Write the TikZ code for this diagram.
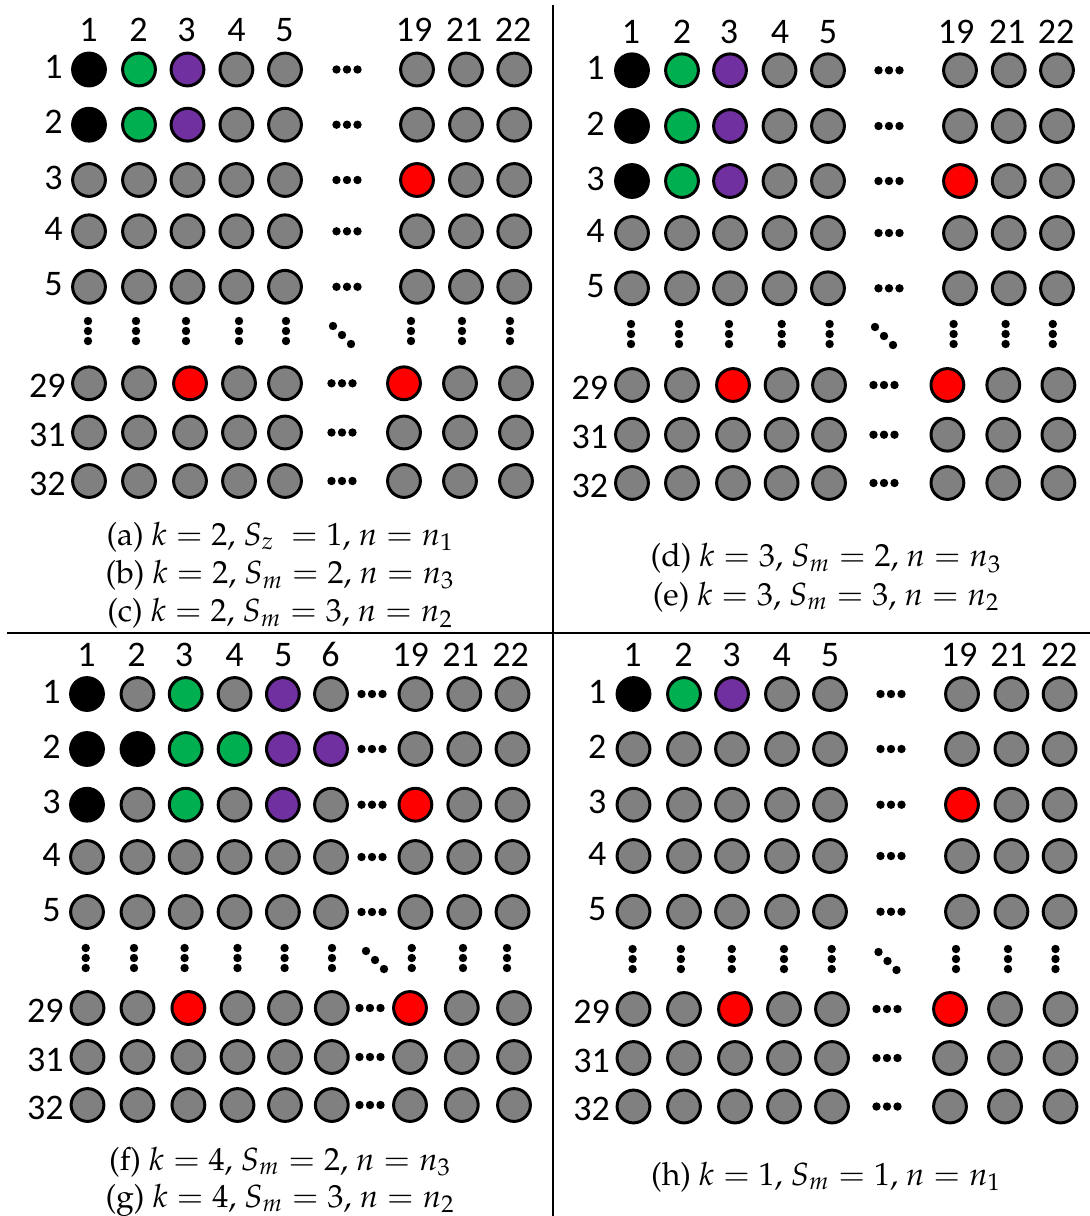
\documentclass[tikz,border=0pt]{standalone}
\usepackage{mathpazo}
\usepackage[no-math]{fontspec}
\usepackage{tikz}
\newfontfamily\numfont{Carlito}
\newcommand{\capfont}{\usefont{OT1}{ppl}{m}{n}\fontsize{16}{19}\selectfont}
\definecolor{ballgray}{HTML}{808080}
\definecolor{ballgreen}{HTML}{00B050}
\definecolor{ballpurple}{HTML}{7030A0}
\tikzset{
  ball/.style={circle, draw=black, line width=1.5pt, minimum size=16.4pt, inner sep=0pt, fill=ballgray},
  ballN/.style={},
  ballK/.style={fill=black},
  ballG/.style={fill=ballgreen},
  ballP/.style={fill=ballpurple},
  ballR/.style={fill=red},
  numlab/.style={font=\numfont\fontsize{18}{21}\selectfont, inner sep=0pt, anchor=base},
  rowlab/.style={numlab, anchor=base east},
  captxt/.style={font=\capfont, inner sep=0pt, anchor=base}
}

\begin{document}
\begin{tikzpicture}[x=0.5pt,y=-0.5pt]
        \useasboundingbox (0,0) rectangle (1090,1216);
        %linee di separazione
        \draw[line width=0.6pt] (553,5)--(553,1216);
        \draw[line width=0.6pt] (7,633)--(1090,633);
        %pannello (a)-(c)
        \foreach \x/\c in {88.6/1,138.6/2,186.4/3,236.4/4,284.6/5,414/19,464/21,513/22}
          \node[numlab] (A-col\c) at (\x,41.7) {\c};
        \foreach \y/\r/\fills in {69.5/1/{K,G,P,N,N,N,N,N},124.7/2/{K,G,P,N,N,N,N,N},180/3/{N,N,N,N,N,R,N,N},231.3/4/{N,N,N,N,N,N,N,N},286.8/5/{N,N,N,N,N,N,N,N}}{
          \node[rowlab] (A-row\r) at (63,\y+9) {\r};
          \foreach \f [count=\j] in \fills {
            \pgfmathsetmacro{\x}{{89,139,187.5,236.4,285,417,466,514.3}[\j-1]}
            \node[ball,ball\f] (A-\r-\j) at (\x,\y) {};
          }
          \foreach \d in {-10.5,0,10.5} \fill (347+\d,\y) circle (2.1pt);
        }
        \foreach \x in {88,136,186,239,286,411,462,510}
          \foreach \d in {-10,0,10} \fill (\x,331+\d) circle (2.1pt);
        \foreach \d in {-9,0,9} \fill (342+\d,335+\d) circle (2.1pt);
        \foreach \y/\r/\fills in {383.3/29/{N,N,R,N,N,R,N,N},432.5/31/{N,N,N,N,N,N,N,N},481/32/{N,N,N,N,N,N,N,N}}{
          \node[rowlab] (A-row\r) at (66,\y+14) {\r};
          \foreach \f [count=\j] in \fills {
            \pgfmathsetmacro{\x}{{89,139,190,239,285,404,460,516}[\j-1]}
            \node[ball,ball\f] (A-\r-\j) at (\x,\y) {};
          }
          \foreach \d in {-10.5,0,10.5} \fill (342+\d,\y) circle (2.1pt);
        }
        \node[captxt] (capa) at (280,545) {(a) $k=2$, $S_z\ =1$, $n=n_1$};
        \node[captxt] (capb) at (280,583.3) {(b) $k=2$, $S_m=2$, $n=n_3$};
        \node[captxt] (capc) at (280,621.7) {(c) $k=2$, $S_m=3$, $n=n_2$};
        %pannello (d)-(e)
        \foreach \x/\c in {631/1,682/2,729/3,780/4,828/5,956/19,1007/21,1056/22}
          \node[numlab] (D-col\c) at (\x,43.3) {\c};
        \foreach \y/\r/\fills in {70.3/1/{K,G,P,N,N,N,N,N},126/2/{K,G,P,N,N,N,N,N},181/3/{K,G,P,N,N,R,N,N},233/4/{N,N,N,N,N,N,N,N},288.3/5/{N,N,N,N,N,N,N,N}}{
          \node[rowlab] (D-row\r) at (605,\y+9) {\r};
          \foreach \f [count=\j] in \fills {
            \pgfmathsetmacro{\x}{{632,682,730,779.5,828,960,1008.7,1057}[\j-1]}
            \node[ball,ball\f] (D-\r-\j) at (\x,\y) {};
          }
          \foreach \d in {-10.5,0,10.5} \fill (889+\d,\y) circle (2.1pt);
        }
        \foreach \x in {631,679,729,781.7,829.6,953.6,1005.6,1052.8}
          \foreach \d in {-10,0,10} \fill (\x,334+\d) circle (2.1pt);
        \foreach \d in {-9,0,9} \fill (884+\d,336+\d) circle (2.1pt);
        \foreach \y/\r/\fills in {385/29/{N,N,R,N,N,R,N,N},434.7/31/{N,N,N,N,N,N,N,N},483/32/{N,N,N,N,N,N,N,N}}{
          \node[rowlab] (D-row\r) at (608.5,\y+14) {\r};
          \foreach \f [count=\j] in \fills {
            \pgfmathsetmacro{\x}{{632,682,733,781.6,829,947.4,1003.3,1058.4}[\j-1]}
            \node[ball,ball\f] (D-\r-\j) at (\x,\y) {};
          }
          \foreach \d in {-10.5,0,10.5} \fill (884+\d,\y) circle (2.1pt);
        }
        \node[captxt] (capd) at (826,566.7) {(d) $k=3$, $S_m=2$, $n=n_3$};
        \node[captxt] (cape) at (826,605) {(e) $k=3$, $S_m=3$, $n=n_2$};
        %pannello (f)-(g)
        \foreach \x/\c in {86.4/1,136.4/2,184/3,234.6/4,283.2/5,330.4/6,410.7/19,460.7/21,510.7/22}
          \node[numlab] (F-col\c) at (\x,666.7) {\c};
        \foreach \y/\r/\fills in {694/1/{K,N,G,N,P,N,N,N,N},749/2/{K,K,G,G,P,P,N,N,N},804.7/3/{K,N,G,N,P,N,R,N,N},857/4/{N,N,N,N,N,N,N,N,N},912/5/{N,N,N,N,N,N,N,N,N}}{
          \node[rowlab] (F-row\r) at (61,\y+9) {\r};
          \foreach \f [count=\j] in \fills {
            \pgfmathsetmacro{\x}{{87,137.5,185.7,234.6,282.9,331,415.4,464.3,512.5}[\j-1]}
            \node[ball,ball\f] (F-\r-\j) at (\x,\y) {};
          }
          \foreach \d in {-10.5,0,10.5} \fill (372+\d,\y) circle (2.1pt);
        }
        \foreach \x in {85.7,134,184.6,237.5,284.6,332,411.8,463,507}
          \foreach \d in {-10,0,10} \fill (\x,958+\d) circle (2.1pt);
        \foreach \d in {-9,0,9} \fill (375+\d,960+\d) circle (2.1pt);
        \foreach \y/\r/\fills in {1008/29/{N,N,R,N,N,N,R,N,N},1057/31/{N,N,N,N,N,N,N,N,N},1105/32/{N,N,N,N,N,N,N,N,N}}{
          \node[rowlab] (F-row\r) at (64,\y+14) {\r};
          \foreach \f [count=\j] in \fills {
            \pgfmathsetmacro{\x}{{87.5,137.5,188.4,237.5,285,331.8,410,461.8,514}[\j-1]}
            \node[ball,ball\f] (F-\r-\j) at (\x,\y) {};
          }
          \foreach \d in {-10.5,0,10.5} \fill (370+\d,\y) circle (2.1pt);
        }
        \node[captxt] (capf) at (280,1170) {(f) $k=4$, $S_m=2$, $n=n_3$};
        \node[captxt] (capg) at (280,1207) {(g) $k=4$, $S_m=3$, $n=n_2$};
        %pannello (h)
        \foreach \x/\c in {632.6/1,683.6/2,731.5/3,781.7/4,830/5,959/19,1008.7/21,1059/22}
          \node[numlab] (H-col\c) at (\x,666.7) {\c};
        \foreach \y/\r/\fills in {694/1/{K,G,P,N,N,N,N,N},749/2/{N,N,N,N,N,N,N,N},804.7/3/{N,N,N,N,N,R,N,N},856/4/{N,N,N,N,N,N,N,N},911.7/5/{N,N,N,N,N,N,N,N}}{
          \node[rowlab] (H-row\r) at (606.8,\y+9) {\r};
          \foreach \f [count=\j] in \fills {
            \pgfmathsetmacro{\x}{{633.5,684,732,782,830,962,1011.4,1059.6}[\j-1]}
            \node[ball,ball\f] (H-\r-\j) at (\x,\y) {};
          }
          \foreach \d in {-10.5,0,10.5} \fill (891+\d,\y) circle (2.1pt);
        }
        \foreach \x in {632.6,680.9,731.8,784,831.7,956,1008,1055.5}
          \foreach \d in {-10,0,10} \fill (\x,959+\d) circle (2.1pt);
        \foreach \d in {-9,0,9} \fill (887.5+\d,961+\d) circle (2.1pt);
        \foreach \y/\r/\fills in {1009/29/{N,N,R,N,N,R,N,N},1058/31/{N,N,N,N,N,N,N,N},1106.5/32/{N,N,N,N,N,N,N,N}}{
          \node[rowlab] (H-row\r) at (610.3,\y+14) {\r};
          \foreach \f [count=\j] in \fills {
            \pgfmathsetmacro{\x}{{633.5,684,735,784,832,950,1005,1060.5}[\j-1]}
            \node[ball,ball\f] (H-\r-\j) at (\x,\y) {};
          }
          \foreach \d in {-10.5,0,10.5} \fill (887+\d,\y) circle (2.1pt);
        }
        \node[captxt] (caph) at (826,1185) {(h) $k=1$, $S_m=1$, $n=n_1$};
\end{tikzpicture}
\end{document}
